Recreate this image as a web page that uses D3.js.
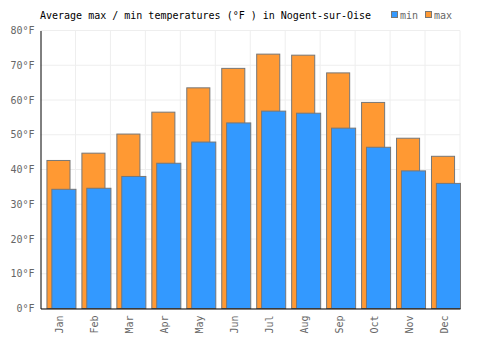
<!DOCTYPE html>
<html>
<head>
<meta charset="utf-8">
<script src="https://cdn.jsdelivr.net/npm/d3@7"></script>
<style>
	body{margin:0;background:#fff;}
	svg text{font-family:"DejaVu Sans Mono",monospace;font-size:10px;}
</style>
</head>
<body>
<div id="chart"></div>
<script>
const months = ["Jan","Feb","Mar","Apr","May","Jun","Jul","Aug","Sep","Oct","Nov","Dec"];
const maxTemps = [42.6,44.7,50.2,56.5,63.5,69.1,73.2,72.9,67.8,59.3,49.0,43.8];
const minTemps = [34.3,34.6,38.0,41.8,47.9,53.4,56.8,56.2,51.9,46.4,39.6,36.0];
const yTicks = [0,10,20,30,40,50,60,70,80];
const titleText = "Average max / min temperatures (°F ) in Nogent-sur-Oise";

let width = 500, height = 350,
	margin = {top:30.5, right:40, bottom:41.5, left:40.5},
	innerW = width-margin.left-margin.right,
	innerH = height-margin.top-margin.bottom;

let svg = d3.select("#chart").append("svg")
	.attr("width", width).attr("height", height);

let x = d3.scaleBand().domain(months).range([margin.left, margin.left+innerW]),
	y = d3.scaleLinear().domain([0,80]).range([margin.top+innerH, margin.top]);

// grid
let grid = svg.append("g").attr("class","grid");
grid.selectAll("line.h").data(yTicks).enter().append("line")
	.attr("x1", margin.left).attr("x2", margin.left+innerW)
	.attr("y1", d => y(d)).attr("y2", d => y(d))
	.attr("stroke","#eeeeee");
grid.selectAll("line.v").data(months).enter().append("line")
	.attr("x1", d => x(d)+x.bandwidth()).attr("x2", d => x(d)+x.bandwidth())
	.attr("y1", margin.top).attr("y2", margin.top+innerH)
	.attr("stroke","#eeeeee");

// bars
let bw = x.bandwidth();
svg.append("g").selectAll("rect").data(months).enter().append("rect")
	.attr("x", d => x(d)+bw*0.17+0.5)
	.attr("width", bw*0.66)
	.attr("y", (d,i) => y(maxTemps[i]))
	.attr("height", (d,i) => y(0)-y(maxTemps[i]))
	.attr("fill","#ff9933").attr("stroke","#777777");
svg.append("g").selectAll("rect").data(months).enter().append("rect")
	.attr("x", d => x(d)+bw*0.31+0.5)
	.attr("width", bw*0.69)
	.attr("y", (d,i) => y(minTemps[i]))
	.attr("height", (d,i) => y(0)-y(minTemps[i]))
	.attr("fill","#3399ff").attr("stroke","#777777");

// axes
let yAxis = svg.append("g")
	.attr("transform","translate("+margin.left+",0)")
	.call(d3.axisLeft(y).tickValues(yTicks).tickSize(0).tickPadding(6).tickFormat(d => d+"°F"));
yAxis.select(".domain").attr("stroke","#000");
yAxis.selectAll("text").attr("fill","#666");

let xAxis = svg.append("g")
	.attr("transform","translate(0,"+(margin.top+innerH)+")")
	.call(d3.axisBottom(x).tickSize(0));
xAxis.select(".domain").attr("stroke","#000");
xAxis.selectAll(".tick text")
	.attr("fill","#666")
	.attr("transform","rotate(-90)")
	.attr("text-anchor","end")
	.attr("dy","0.35em")
	.attr("x", -7).attr("y", 2);

// title
svg.append("text").attr("x", 40).attr("y", 19).attr("fill","#000").text(titleText);

// legend
let legend = [{name:"min", color:"#3399ff", x:391},{name:"max", color:"#ff9933", x:425}];
let lg = svg.append("g").selectAll("g").data(legend).enter().append("g");
lg.append("rect").attr("x", d => d.x+0.5).attr("y", 11.5).attr("width",6).attr("height",6)
	.attr("fill", d => d.color).attr("stroke","#777");
lg.append("text").attr("x", d => d.x+9).attr("y", 19).attr("fill","#666").text(d => d.name);
</script>
</body>
</html>
